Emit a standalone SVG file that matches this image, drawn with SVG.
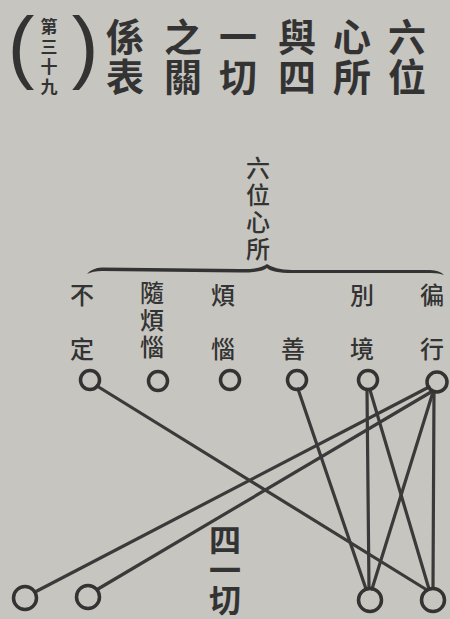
<svg xmlns="http://www.w3.org/2000/svg" width="450" height="619" viewBox="0 0 450 619">
<style>
.bg{fill:#c6c5bf}
.t{font-family:"Noto Sans CJK TC","Noto Sans CJK SC",sans-serif;fill:#333;text-anchor:middle;dominant-baseline:central}
.v{font-family:"Noto Sans CJK TC","Noto Sans CJK SC",sans-serif;fill:#333;writing-mode:vertical-rl;text-anchor:start}
.title{font-size:38px;font-weight:700;letter-spacing:2px}
.small{font-size:17px;font-weight:700;letter-spacing:3px}
.lab{font-size:24px;font-weight:500}
.labv{font-size:24px;font-weight:500;letter-spacing:3px}
.big{font-size:32px;font-weight:700;letter-spacing:-2px}
.paren{font-family:"Liberation Sans",sans-serif;font-size:80px;fill:#333;text-anchor:middle}
.node{fill:none;stroke:#333;stroke-width:3.5}
.edge{stroke:#3a3a3a;stroke-width:3.2;fill:none;stroke-linecap:round}
</style>
<rect class="bg" x="0" y="0" width="450" height="619"/>
<g id="title">
<text class="v title" x="407" y="18">六位</text>
<text class="v title" x="352" y="18">心所</text>
<text class="v title" x="297" y="18">與四</text>
<text class="v title" x="238" y="18">一切</text>
<text class="v title" x="183" y="18">之關</text>
<text class="v title" x="125" y="18">係表</text>
<text class="paren" x="21" y="73">(</text>
<text class="paren" x="85" y="73">)</text>
<text class="v small" x="49" y="18">第三十九</text>
</g>
<g id="root">
<text class="v labv" x="258" y="156">六位心所</text>
</g>
<g id="brace">
<path d="M87,274 Q92,268 102,267.5 L240,269 Q260,269.5 267,264 Q274,269.5 292,270 L430,270 Q440,270.5 444,275 Q438,272.5 428,273 L292,273 Q272,273 267,268 Q262,272.5 240,272.5 L102,271 Q93,271 87,274 Z" fill="#333"/>
</g>
<g id="connectors">
<line class="edge" x1="97" y1="386" x2="427" y2="590"/>
<line class="edge" x1="298" y1="389" x2="366" y2="589"/>
<line class="edge" x1="367" y1="390" x2="369" y2="588"/>
<line class="edge" x1="370" y1="390" x2="429" y2="589"/>
<line class="edge" x1="434" y1="392" x2="433" y2="588"/>
<line class="edge" x1="433" y1="392" x2="372" y2="589"/>
<line class="edge" x1="429" y1="387" x2="35" y2="592"/>
<line class="edge" x1="431" y1="392" x2="98" y2="589"/>
</g>
<g id="n-buding">
<text class="t lab" x="82" y="293">不</text>
<text class="t lab" x="82" y="347">定</text>
<circle class="node" cx="90" cy="380" r="9.5"/>
</g>
<g id="n-suifannao">
<text class="v labv" x="152" y="281">隨煩惱</text>
<circle class="node" cx="158" cy="381" r="9.5"/>
</g>
<g id="n-fannao">
<text class="t lab" x="223" y="293">煩</text>
<text class="t lab" x="223" y="347">惱</text>
<circle class="node" cx="230" cy="380" r="9.5"/>
</g>
<g id="n-shan">
<text class="t lab" x="293" y="347">善</text>
<circle class="node" cx="297" cy="380" r="9.5"/>
</g>
<g id="n-biejing">
<text class="t lab" x="362" y="293">別</text>
<text class="t lab" x="362" y="347">境</text>
<circle class="node" cx="368" cy="380" r="9.5"/>
</g>
<g id="n-bianxing">
<text class="t lab" x="432" y="293">徧</text>
<text class="t lab" x="432" y="347">行</text>
<circle class="node" cx="437" cy="382" r="10"/>
</g>
<g id="siyiqie">
<text class="v big" x="225" y="524">四一切</text>
</g>
<g id="b1"><circle class="node" cx="25" cy="598" r="11.5"/></g>
<g id="b2"><circle class="node" cx="88" cy="597" r="11.5"/></g>
<g id="b3"><circle class="node" cx="370" cy="600" r="11.5"/></g>
<g id="b4"><circle class="node" cx="433" cy="600" r="11.5"/></g>
</svg>
